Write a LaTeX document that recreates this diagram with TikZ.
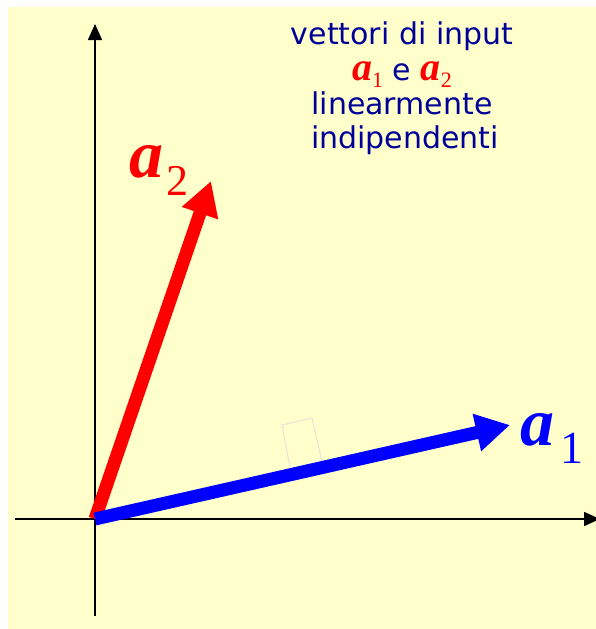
\documentclass[tikz,border=0pt]{standalone}
\usepackage{fontspec}
\setmainfont{Liberation Serif}
\newfontfamily\tah{DejaVu Sans}
\usetikzlibrary{arrows.meta}
\definecolor{bg}{RGB}{255,255,204}
\definecolor{navy}{RGB}{0,0,153}
\definecolor{faint}{RGB}{228,228,218}
\begin{document}
\begin{tikzpicture}[x=1pt,y=-1pt,
  axis/.style={line width=1.6pt,-{Triangle[length=16pt,width=14pt]}},
  vec/.style={line width=13pt,-{Triangle[length=34pt,width=36pt]}},
  title/.style={anchor=base,inner sep=0pt,text=navy,font=\tah\fontsize{30}{30}\selectfont},
  biglab/.style={anchor=base west,inner sep=0pt}]
\useasboundingbox (0,0) rectangle (596,629);
\fill[bg] (8,7) rectangle (596,629);
\coordinate (O) at (95,519);
\coordinate (yb) at (95,616);
\coordinate (yt) at (95,24);
\coordinate (xl) at (15,519);
\coordinate (xr) at (600,519);
\coordinate (A1) at (510,425);
\coordinate (A2) at (211,181);
\draw[axis] (yb) -- (yt);
\draw[axis] (xl) -- (xr);
\draw[faint,line width=1pt] (290,467) -- (282,425) -- (312,418) -- (322,462);
\draw[vec,red] (O) -- (A2);
\draw[vec,blue] (O) -- (A1);
\node[biglab,text=red] (l2) at (129,177) {{\fontsize{68}{68}\selectfont\bfseries\itshape a}\hspace{3pt}\raisebox{-18pt}{\fontsize{44}{44}\selectfont 2}};
\node[biglab,text=blue] (l1) at (520,445) {{\fontsize{68}{68}\selectfont\bfseries\itshape a}\hspace{6pt}\raisebox{-18pt}{\fontsize{46}{46}\selectfont 1}};
\node[title] (t1) at (402,44) {vettori di input};
\node[title] (t2) at (402,80) {\smash{{\color{red}\fontsize{40}{40}\rmfamily\bfseries\itshape a\raisebox{-7pt}{\fontsize{22}{22}\mdseries\upshape 1}} e {\color{red}\fontsize{40}{40}\rmfamily\bfseries\itshape a\raisebox{-7pt}{\fontsize{22}{22}\mdseries\upshape 2}}}};
\node[title] (t3) at (402,114) {linearmente};
\node[title] (t4) at (405,148) {indipendenti};
\end{tikzpicture}
\end{document}
